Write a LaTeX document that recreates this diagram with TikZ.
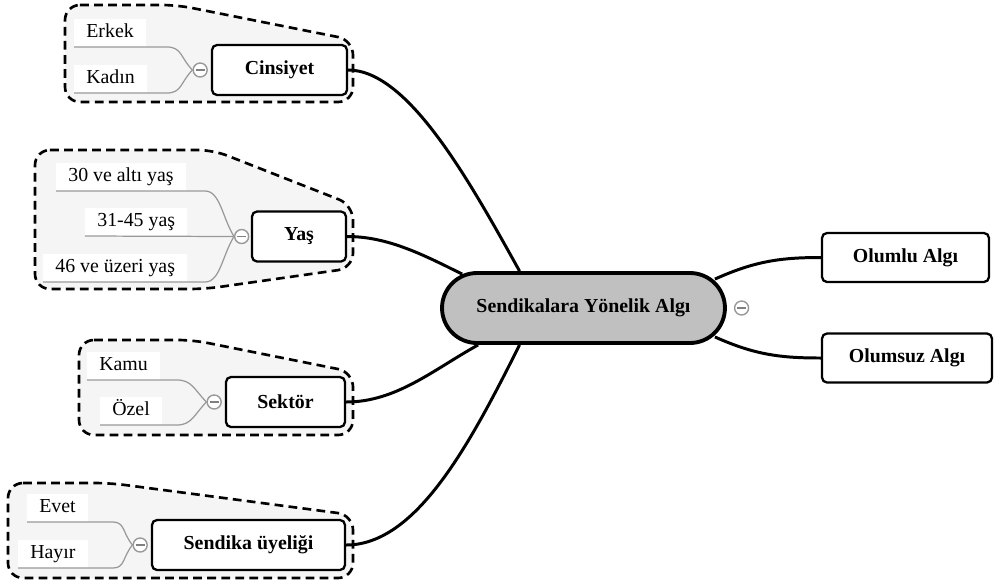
\documentclass[tikz,border=0pt]{standalone}
\usepackage{fontspec}
\setmainfont{Liberation Serif}
\usetikzlibrary{positioning,calc,backgrounds}

\definecolor{rootgray}{RGB}{192,192,192}
\definecolor{groupgray}{RGB}{245,245,245}

\begin{document}
\begin{tikzpicture}[x=0.02cm, y=-0.02cm, font=\fontsize{11.3}{13}\selectfont,
    topic/.style={rectangle, draw, line width=1.3pt, rounded corners=0.1cm, fill=white, minimum height=1cm, font=\fontsize{11.3}{13}\selectfont\bfseries},
    leaf/.style={fill=white, anchor=south west, inner xsep=0.24cm, inner ysep=0.1cm, text height=0.75em, text depth=0.25em},
    knob/.style={circle, draw=gray!80, fill=white, line width=0.8pt, minimum size=0.28cm, inner sep=0pt,
        path picture={\draw[gray, line width=1pt] ([xshift=-2.6pt]path picture bounding box.center) -- ([xshift=2.6pt]path picture bounding box.center);}},
    group/.style={draw, line width=1.5pt, dash pattern=on 5pt off 3pt, rounded corners=0.3cm, fill=groupgray},
    branch/.style={line width=1.7pt},
    twig/.style={gray!80, line width=0.7pt}]
    \useasboundingbox (0,0) rectangle (995,586);

    % centre
    \node[topic, rounded corners=0.7cm, fill=rootgray, line width=2.2pt, minimum width=5.66cm, minimum height=1.4cm] (root) at (583.5,308) {Sendikalara Yönelik Algı};
    \node[knob, right=0.14cm of root] (rootknob) {};

    \node[topic, minimum width=3.34cm, minimum height=0.98cm] (olumlu) at (905.5,257.5) {Olumlu Algı};
    \node[topic, minimum width=3.4cm, minimum height=0.98cm] (olumsuz) at (907,358) {Olumsuz Algı};

    % left topics
    \node[topic, minimum width=2.7cm] (cins) at (279.5,70) {Cinsiyet};
    \node[knob, left=0.06cm of cins] (cinsknob) {};
    \node[leaf] (erkek) at (74,47) {Erkek};
    \node[leaf] (kadin) at (74,93) {Kadın};

    \node[topic, minimum width=1.88cm] (yas) at (299,236.5) {Yaş};
    \node[knob, left=0.03cm of yas] (yasknob) {};
    \node[leaf] (yas30) at (56,191) {30 ve altı yaş};
    \node[leaf] (yas31) at (85,236) {31-45 yaş};
    \node[leaf] (yas46) at (43,282) {46 ve üzeri yaş};

    \node[topic, minimum width=2.38cm] (sektor) at (285.5,402) {Sektör};
    \node[knob, left=0.06cm of sektor] (sektorknob) {};
    \node[leaf] (kamu) at (87,380) {Kamu};
    \node[leaf] (ozel) at (100,425) {Özel};

    \node[topic, minimum width=3.86cm] (uye) at (248.5,545) {Sendika üyeliği};
    \node[knob, left=0.06cm of uye] (uyeknob) {};
    \node[leaf] (evet) at (27,522) {Evet};
    \node[leaf] (hayir) at (18,568) {Hayır};

    % thin lines to the knobs
    \draw[twig] (erkek.south west) -- ++(93,0) .. controls +(15,0) and +(-12,-12) .. (cinsknob.west);
    \draw[twig] (kadin.south west) -- ++(93,0) .. controls +(15,0) and +(-12,12) .. (cinsknob.west);
    \draw[twig] (yas30.south west) -- ++(149,0) .. controls +(15,0) and +(-12,-20) .. (yasknob.west);
    \draw[twig] (yas31.south west) -- (yasknob.west);
    \draw[twig] (yas46.south west) -- ++(162,0) .. controls +(15,0) and +(-12,20) .. (yasknob.west);
    \draw[twig] (kamu.south west) -- ++(90,0) .. controls +(15,0) and +(-12,-12) .. (sektorknob.west);
    \draw[twig] (ozel.south west) -- ++(77,0) .. controls +(15,0) and +(-12,12) .. (sektorknob.west);
    \draw[twig] (evet.south west) -- ++(86,0) .. controls +(12,0) and +(-10,-12) .. (uyeknob.west);
    \draw[twig] (hayir.south west) -- ++(95,0) .. controls +(12,0) and +(-10,12) .. (uyeknob.west);

    \begin{scope}[on background layer]
        % dashed groups
        \draw[group] (65,5) -- (177,5) -- (353,40) -- (353,102) -- (65,102) -- cycle;
        \draw[group] (35,150) -- (213,150) -- (353,205) -- (353,268) -- (205,289) -- (35,289) -- cycle;
        \draw[group] (79,340) -- (193,340) -- (353,372) -- (353,435) -- (79,435) -- cycle;
        \draw[group] (8,483) -- (110,483) -- (353,515) -- (353,578) -- (8,578) -- cycle;

        % branches
        \draw[branch] (cins.east) .. controls +(60,0) and +(-50,-90) .. (root.150);
        \draw[branch] (yas.east) .. controls +(40,0) and +(-40,-20) .. ($(root.north west)+(22,3)$);
        \draw[branch] (sektor.east) .. controls +(50,0) and +(-45,25) .. ($(root.south west)+(38,0)$);
        \draw[branch] (uye.east) .. controls +(70,0) and +(-50,100) .. (root.210);
        \draw[branch] ($(root.north east)+(-12,8)$) .. controls +(40,-18) and +(-40,0) .. (olumlu.west);
        \draw[branch] ($(root.south east)+(-12,-8)$) .. controls +(40,18) and +(-40,0) .. (olumsuz.west);
    \end{scope}
\end{tikzpicture}
\end{document}
